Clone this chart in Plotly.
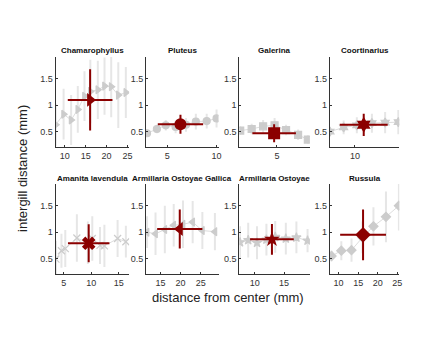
import plotly.graph_objects as go

titles = ["Chamarophyllus", "Pluteus", "Galerina", "Coortinarius",
          "Amanita lavendula", "Armillaria Ostoyae Gallica", "Armillaria Ostoyae", "Russula"]
symbols = ["triangle-right", "circle", "square", "hexagram",
           "x-thin-open", "triangle-left", "star", "diamond"]
red_symbols = ["triangle-right", "circle", "square", "hexagram",
               "x", "triangle-left", "star", "diamond"]

# gray series: distance bins (mm), mean intergill distance, error
cham_x = [7.8, 9.7, 11.5, 13.1, 14.7, 16.1, 17.9, 19.5, 21.1, 22.8, 24.6]
cham_y = [0.63, 0.83, 0.72, 0.92, 1.17, 1.26, 1.29, 1.36, 1.35, 1.19, 1.24]
cham_e = [0.4, 0.48, 0.47, 0.44, 0.47, 0.6, 0.55, 0.54, 0.58, 0.62, 0.48]

plut_x = [2.95, 3.95, 4.85, 5.85, 6.9, 7.9, 9.0, 10.0]
plut_y = [0.47, 0.55, 0.62, 0.59, 0.63, 0.69, 0.70, 0.75]
plut_e = [0.06, 0.08, 0.1, 0.12, 0.13, 0.15, 0.14, 0.17]

gale_x = [1.8, 2.8, 3.8, 4.8, 5.8, 6.85, 7.7]
gale_y = [0.52, 0.55, 0.60, 0.62, 0.53, 0.44, 0.35]
gale_e = [0.08, 0.1, 0.12, 0.14, 0.1, 0.1, 0.08]

coor_x = [7.35, 8.8, 10.2, 11.8, 13.2, 14.6]
coor_y = [0.50, 0.58, 0.62, 0.66, 0.67, 0.68]
coor_e = [0.08, 0.13, 0.15, 0.18, 0.2, 0.23]

aman_x = [3.6, 4.6, 5.3, 7.4, 9.4, 10.2, 11.6, 12.4, 14.8, 16.3]
aman_y = [0.49, 0.65, 0.69, 0.89, 0.80, 0.88, 0.75, 0.74, 0.88, 0.82]
aman_e = [0.35, 0.32, 0.35, 0.45, 0.4, 0.42, 0.35, 0.4, 0.35, 0.3]

aog_x = [11.7, 13.8, 16.1, 18.3, 20.6, 23.0, 25.4, 28.5]
aog_y = [1.0, 0.97, 1.05, 1.13, 1.15, 1.19, 1.03, 1.01]
aog_e = [0.3, 0.4, 0.45, 0.4, 0.45, 0.4, 0.35, 0.35]

ao_x = [7.5, 8.9, 10.4, 12.0, 13.5, 15.3, 17.1, 19.0]
ao_y = [0.81, 0.85, 0.80, 0.86, 0.91, 0.88, 0.90, 0.84]
ao_e = [0.3, 0.33, 0.31, 0.3, 0.3, 0.3, 0.3, 0.22]

russ_x = [8.2, 10.7, 13.3, 16.1, 18.9, 22.1, 25.4]
russ_y = [0.55, 0.65, 0.66, 0.9, 1.11, 1.29, 1.5]
russ_e = [0.1, 0.18, 0.22, 0.3, 0.36, 0.48, 0.47]

gray_x = [cham_x, plut_x, gale_x, coor_x, aman_x, aog_x, ao_x, russ_x]
gray_y = [cham_y, plut_y, gale_y, coor_y, aman_y, aog_y, ao_y, russ_y]
gray_e = [cham_e, plut_e, gale_e, coor_e, aman_e, aog_e, ao_e, russ_e]

# red summary point per genus: mean distance, mean intergill, std
red_x = [16.05, 6.34, 4.76, 10.93, 9.55, 19.8, 12.94, 16.25]
red_xe = [5.35, 2.3, 1.9, 2.54, 3.77, 5.6, 3.72, 5.85]
red_y = [1.1, 0.64, 0.47, 0.63, 0.79, 1.06, 0.865, 0.95]
red_ye = [0.58, 0.18, 0.17, 0.21, 0.36, 0.37, 0.29, 0.48]

x_ranges = [[7.8, 25.4], [2.85, 10.2], [1.73, 7.88], [7.33, 14.7],
            [3.55, 16.9], [11.45, 29.4], [7.4, 19.4], [7.75, 25.5]]

# page body adds an 8px margin, so positions are shifted back by it
OFF = 8
W, H = 443 - OFF, 342 - OFF
col_px = [(56, 130), (147, 220), (241, 312), (332, 402)]
row_px = [(57, 147), (184, 274)]

GRAY = "#cccccc"
RED = "#8b0000"
fig = go.Figure()

for i in range(8):
    r, c = divmod(i, 4)
    n = i + 1
    xa = "x" if n == 1 else f"x{n}"
    ya = "y" if n == 1 else f"y{n}"
    fig.add_trace(go.Scatter(
        x=gray_x[i], y=gray_y[i], xaxis=xa, yaxis=ya,
        mode="lines+markers",
        line=dict(color="#dddddd", width=1),
        marker=dict(symbol=symbols[i], size=7, color=GRAY,
                    line=dict(color=GRAY, width=1.2)),
        error_y=dict(type="data", array=gray_e[i], color="#e6e6e6", thickness=2, width=0),
        showlegend=False
    ))
    fig.add_trace(go.Scatter(
        x=[red_x[i]], y=[red_y[i]], xaxis=xa, yaxis=ya,
        mode="markers",
        marker=dict(symbol=red_symbols[i], size=12, color=RED),
        error_x=dict(type="data", array=[red_xe[i]], color=RED, thickness=2, width=0),
        error_y=dict(type="data", array=[red_ye[i]], color=RED, thickness=2, width=0),
        showlegend=False
    ))
    x0, x1 = [p - OFF for p in col_px[c]]
    y0, y1 = [p - OFF for p in row_px[r]]
    axis_style = dict(showline=True, linecolor="#333333", linewidth=1, showgrid=False,
                      zeroline=False, ticks="inside", ticklen=2, tickcolor="#333333",
                      tickfont=dict(size=9, color="#333333"))
    fig.layout[("xaxis" if n == 1 else f"xaxis{n}")] = dict(
        domain=[x0 / W, x1 / W], range=x_ranges[i], dtick=5, anchor=ya, **axis_style)
    fig.layout[("yaxis" if n == 1 else f"yaxis{n}")] = dict(
        domain=[1 - y1 / H, 1 - y0 / H], range=[0.21, 1.91], tickvals=[0.5, 1, 1.5],
        ticktext=["0.5", "1", "1.5"], anchor=xa, **axis_style)
    fig.add_annotation(text=f"<b>{titles[i]}</b>", xref="paper", yref="paper",
                       x=(x0 + x1) / 2 / W, y=1 - (y0 - 6) / H, showarrow=False,
                       xanchor="center", yanchor="middle",
                       font=dict(size=8, color="#111111"))

fig.add_annotation(text="distance from center (mm)", xref="paper", yref="paper",
                   x=(230 - OFF) / W, y=1 - (297 - OFF) / H, showarrow=False, xanchor="center",
                   yanchor="middle", font=dict(size=13, color="#222222"))
fig.add_annotation(text="intergill distance (mm)", xref="paper", yref="paper",
                   x=(22 - OFF) / W, y=1 - (168 - OFF) / H, showarrow=False, textangle=-90,
                   xanchor="center", yanchor="middle", font=dict(size=13, color="#222222"))

fig.update_layout(
    width=W, height=H,
    margin=dict(l=0, r=0, t=0, b=0),
    plot_bgcolor="white", paper_bgcolor="white",
    font=dict(family="Liberation Sans, Arial, sans-serif")
)

fig.write_html("out.html")
